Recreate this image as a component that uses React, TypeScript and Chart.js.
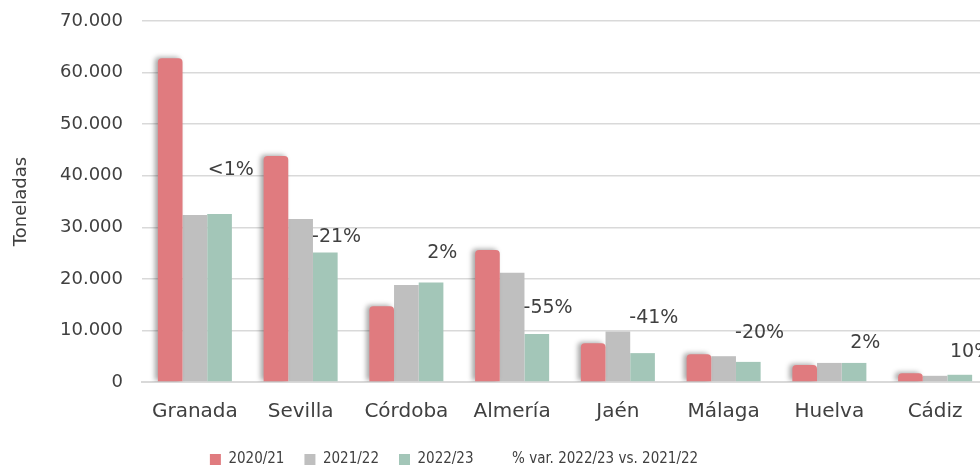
import React, { useEffect, useRef } from 'react';
import { Chart, registerables } from 'chart.js';

Chart.register(...registerables);

const categories = ['Granada', 'Sevilla', 'Córdoba', 'Almería', 'Jaén', 'Málaga', 'Huelva', 'Cádiz'];
const seriesNames = ['2020/21', '2021/22', '2022/23'];
const values2020 = [62800, 43800, 14700, 25600, 7500, 5400, 3300, 1700];
const values2021 = [32400, 31600, 18800, 21200, 9800, 5000, 3700, 1200];
const values2022 = [32600, 25100, 19300, 9300, 5600, 3900, 3700, 1400];
const varName = '% var. 2022/23 vs. 2021/22';
const varLabels = ['<1%', '-21%', '2%', '-55%', '-41%', '-20%', '2%', '10%'];
// height (in tonnes) at which each % label sits in the picture
const varLabelHeights = [41100, 28100, 25000, 14300, 12400, 9500, 7600, 5800];
const yMax = 70000;
const yStep = 10000;
const yTitle = 'Toneladas';

const COLORS = ['#E07B7F', '#BFBFBF', '#A3C6B8'];
const TEXT = '#404040';
const FONT = "'DejaVu Sans', sans-serif";

const fmt = (v: number) => String(v).replace(/\B(?=(\d{3})+(?!\d))/g, '.');

const effectsPlugin = {
  id: 'effects',
  afterLayout(chart: any) {
    const lg = chart.legend;
    if (lg) {
      lg.right -= 80;
      lg.top += 6;
      lg.bottom += 6;
    }
  },
  beforeDatasetDraw(chart: any, args: any) {
    if (args.index === 0) {
      const ctx = chart.ctx;
      ctx.save();
      ctx.shadowColor = 'rgba(0,0,0,0.35)';
      ctx.shadowBlur = 5;
      ctx.shadowOffsetX = -3;
      ctx.shadowOffsetY = -1;
    }
  },
  afterDatasetDraw(chart: any, args: any) {
    if (args.index === 0) chart.ctx.restore();
  },
  afterDatasetsDraw(chart: any) {
    const meta = chart.getDatasetMeta(3);
    const xs = chart.scales.x;
    const catW = (xs.right - xs.left) / categories.length;
    const ctx = chart.ctx;
    ctx.save();
    ctx.font = `19px ${FONT}`;
    ctx.fillStyle = TEXT;
    ctx.textAlign = 'center';
    ctx.textBaseline = 'middle';
    meta.data.forEach((pt: any, i: number) => {
      ctx.fillText(varLabels[i], pt.x + catW * 0.34, pt.y);
    });
    ctx.restore();
  },
};

export default function App() {
  const ref = useRef<HTMLCanvasElement | null>(null);
  useEffect(() => {
    if (!ref.current) return;
    const chart = new Chart(ref.current, {
      type: 'bar',
      data: {
        labels: categories,
        datasets: [
          {
            label: seriesNames[0],
            data: values2020,
            backgroundColor: COLORS[0],
            borderRadius: { topLeft: 4, topRight: 4, bottomLeft: 0, bottomRight: 0 },
            borderSkipped: false,
          },
          { label: seriesNames[1], data: values2021, backgroundColor: COLORS[1] },
          { label: seriesNames[2], data: values2022, backgroundColor: COLORS[2] },
          {
            type: 'line',
            label: varName,
            data: varLabelHeights,
            showLine: false,
            pointRadius: 0,
            backgroundColor: 'rgba(0,0,0,0)',
            borderColor: 'rgba(0,0,0,0)',
            borderWidth: 0,
          } as any,
        ],
      },
      options: {
        responsive: false,
        animation: false,
        layout: { padding: { top: 21, right: 12, left: 0, bottom: 0 } },
        datasets: { bar: { categoryPercentage: 0.7, barPercentage: 1 } } as any,
        plugins: {
          tooltip: { enabled: false },
          legend: {
            position: 'bottom',
            labels: {
              color: TEXT,
              font: { family: "'DejaVu Sans Condensed', sans-serif", size: 15 },
              boxWidth: 11,
              boxHeight: 11,
              padding: 20,
            },
          },
        },
        scales: {
          x: {
            grid: { display: false, drawTicks: false },
            border: { display: true, color: '#D9D9D9', width: 2 },
            ticks: { color: TEXT, font: { family: FONT, size: 20 }, padding: 18, maxRotation: 0 },
            afterFit: (s: any) => { s.height = 44; },
          },
          y: {
            min: 0,
            max: yMax,
            ticks: {
              stepSize: yStep,
              color: TEXT,
              font: { family: FONT, size: 18 },
              padding: 19,
              callback: (v: any) => fmt(Number(v)),
            },
            grid: { color: '#D9D9D9', lineWidth: 1.5, drawTicks: false },
            border: { display: false },
            title: {
              display: true,
              text: yTitle,
              color: TEXT,
              font: { family: FONT, size: 18 },
              padding: { top: 11, bottom: 0 },
            },
            afterFit: (s: any) => { s.width = 142; s.paddingTop = 0; s.paddingBottom = 0; },
          },
        },
      },
      plugins: [effectsPlugin],
    });
    return () => chart.destroy();
  }, []);
  return (
    <div style={{ position: 'absolute', left: 0, top: 0, width: 980, height: 471, overflow: 'hidden', background: '#fff' }}>
      <canvas ref={ref} width={1000} height={471} style={{ width: 1000, height: 471, display: 'block' }} />
    </div>
  );
}
